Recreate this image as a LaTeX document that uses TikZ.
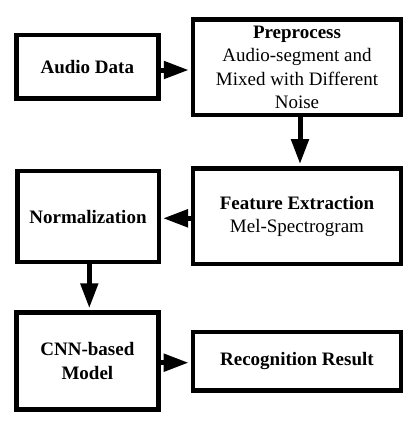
\documentclass[tikz,border=0pt]{standalone}
\usepackage{fontspec}
\setmainfont{Liberation Serif}
\usetikzlibrary{arrows.meta}
\tikzset{
  box/.style={draw=black, line width=4.5pt, fill=white, inner sep=0pt, align=center,
              font=\fontsize{19}{23.3}\selectfont},
  arr/.style={line width=5pt, -{Triangle[length=25pt,width=17pt]}, shorten >=2pt}
}
\begin{document}
\begin{tikzpicture}[x=1pt,y=-1pt]
\useasboundingbox[fill=white] (0,0) rectangle (417,445);
\node[box, minimum width=142pt, minimum height=63.4pt] (audio) at (87.3,66.7) {\textbf{Audio Data}};
\node[box, minimum width=208pt, minimum height=95.4pt] (pre) at (297,67.3)
  {\textbf{Preprocess}\\Audio-segment and\\Mixed with Different\\Noise};
\node[box, minimum width=208pt, minimum height=95.7pt] (fe) at (297,216.2)
  {\textbf{Feature Extraction}\\Mel-Spectrogram};
\node[box, minimum width=141.5pt, minimum height=91.4pt] (norm) at (88,216.5) {\textbf{Normalization}};
\node[box, minimum width=141.8pt, minimum height=96.8pt] (cnn) at (87.4,360.9)
  {\textbf{CNN-based}\\\textbf{Model}};
\node[box, minimum width=208pt, minimum height=58.5pt] (rec) at (296.9,361.2) {\textbf{Recognition Result}};
\coordinate (a1) at (0,70);
\coordinate (a2) at (300,0);
\coordinate (a3) at (0,218.3);
\coordinate (a4) at (89.3,0);
\coordinate (a5) at (0,362.7);
\draw[arr] (audio.east |- a1) -- (pre.west |- a1);
\draw[arr] (pre.south -| a2) -- (fe.north -| a2);
\draw[arr] (fe.west |- a3) -- (norm.east |- a3);
\draw[arr] (norm.south -| a4) -- (cnn.north -| a4);
\draw[arr] (cnn.east |- a5) -- (rec.west |- a5);
\end{tikzpicture}
\end{document}
